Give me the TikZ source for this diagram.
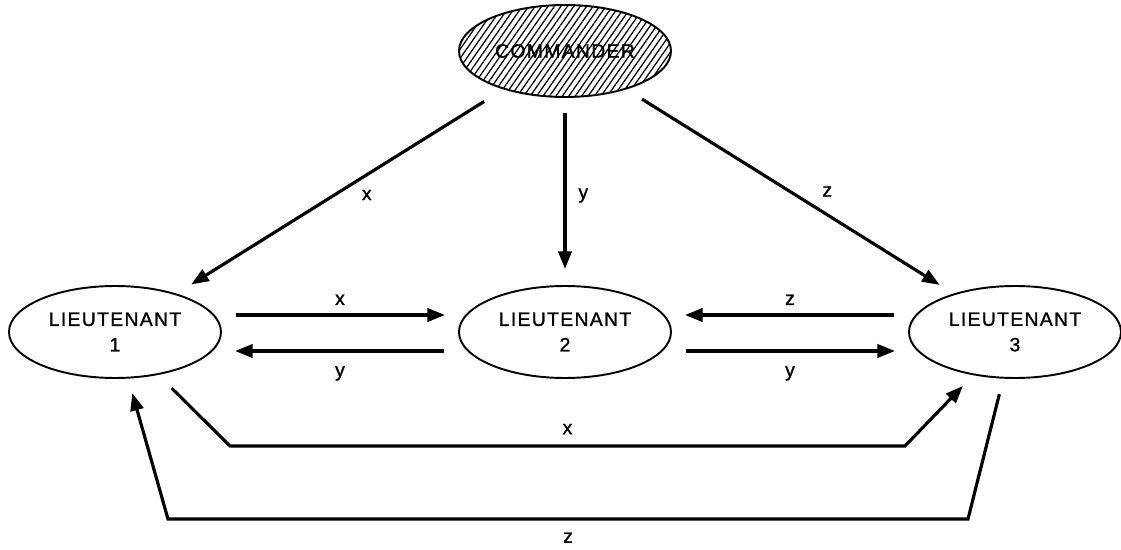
\documentclass[tikz,border=0pt]{standalone}
\usepackage{fontspec}
\usepackage{tikz}
\usetikzlibrary{positioning, shapes.geometric, arrows.meta, patterns.meta}
\newfontfamily\rankfont[LetterSpace=7, FakeBold=1.2]{Liberation Sans}
\newcommand\rankstyle{\rankfont\fontsize{11pt}{14.5pt}\selectfont}

\begin{document}
\begin{tikzpicture}[
         officer/.style={ellipse, draw, line width=1.1pt, minimum width=4.24cm, minimum height=1.84cm,
                         inner sep=0pt, outer sep=0pt, align=center, font=\rankstyle},
         commander/.style={officer, pattern={Lines[angle=55, distance=3pt, line width=0.7pt]}},
         order/.style={font=\rankstyle},
         msg/.style={-{Triangle[length=10pt, width=7.5pt]}, line width=1.8pt},
         hmsg/.style={msg, shorten <=0.3cm, shorten >=0.28cm}
      ]
         \useasboundingbox (-11.3,1.02) rectangle (11.12,-9.98);

         % Nodes for the officers
         \node[commander] (cmd) {COMMANDER};
         \node[officer, below=3.78cm of cmd] (lt2) {LIEUTENANT\\2};
         \node[officer, left=4.76cm of lt2] (lt1) {LIEUTENANT\\1};
         \node[officer, right=4.76cm of lt2] (lt3) {LIEUTENANT\\3};

         % Corners of the long relays
         \coordinate (xl) at (-6.70,-7.90);
         \coordinate (xr) at (6.80,-7.90);
         \coordinate (zl) at (-7.94,-9.36);
         \coordinate (zr) at (8.06,-9.36);

         % Orders from the commander
         \draw[msg, shorten <=0.48cm, shorten >=0.37cm] (cmd) -- node[order, midway, right=0.29cm, yshift=-0.07cm] {x} (lt1);
         \draw[msg, shorten <=0.32cm, shorten >=0.34cm] (cmd) -- node[order, midway, right=0.12cm, yshift=-0.08cm] {y} (lt2);
         \draw[msg, shorten <=0.39cm, shorten >=0.35cm] (cmd) -- node[order, midway, right=0.5cm] {z} (lt3);

         % Relays between the lieutenants
         \draw[hmsg] ([yshift=0.34cm]lt1.east) -- node[order, above=1.5pt] {x} ([yshift=0.34cm]lt2.west);
         \draw[hmsg] ([yshift=-0.38cm]lt2.west) -- node[order, below=4.5pt] {y} ([yshift=-0.38cm]lt1.east);
         \draw[hmsg] ([yshift=0.34cm]lt3.west) -- node[order, above=1.5pt] {z} ([yshift=0.34cm]lt2.east);
         \draw[hmsg] ([yshift=-0.38cm]lt2.east) -- node[order, below=4.5pt] {y} ([yshift=-0.38cm]lt3.west);

         \draw[msg, shorten <=0.4cm, shorten >=0.32cm] (lt1) -- (xl) -- node[order, above=2.5pt] {x} (xr) -- (lt3);
         \draw[msg, shorten <=0.34cm, shorten >=0.32cm] (lt3) -- (zr) -- node[order, below=3.5pt] {z} (zl) -- (lt1);

      \end{tikzpicture}
\end{document}
